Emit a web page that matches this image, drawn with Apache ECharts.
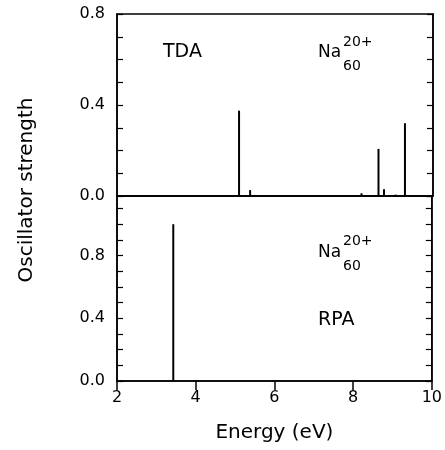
<!DOCTYPE html>
<html lang="en">
<head>
    <meta charset="UTF-8">
    <title>Oscillator strength</title>
    <script src="https://cdn.jsdelivr.net/npm/echarts@6/dist/echarts.min.js"></script>
    <style>
        body { margin: 0; background: #fff; }
    </style>
</head>
<body>
<div id="main" style="width: 445px;height:450px;"></div>
<script>
    // TDA lines (energy eV, strength)
    var tdaEnergy = [4.71, 5.09, 5.37, 8.19, 8.62, 8.76, 9.05, 9.29];
    var tdaStrength = [0.003, 0.375, 0.026, 0.012, 0.207, 0.03, 0.006, 0.32];
    // RPA lines
    var rpaEnergy = [3.43];
    var rpaStrength = [1.0];
    var xTicks = [2, 4, 6, 8, 10];
    var yTickLabels = [0, 0.4, 0.8];

    function pairs(xs, ys) {
        var out = [];
        for (var i = 0; i < xs.length; i++) {
            out.push([xs[i], ys[i]]);
        }
        return out;
    }

    var fontName = 'DejaVu Sans';

    function yLabel(v) {
        for (var i = 0; i < yTickLabels.length; i++) {
            if (Math.abs(v - yTickLabels[i]) < 1e-6) return v.toFixed(1);
        }
        return '';
    }

    function yAxisDef(grid, max, right) {
        return {
            type: 'value',
            gridIndex: grid,
            position: right ? 'right' : 'left',
            min: 0,
            max: max,
            interval: 0.1,
            splitLine: {show: false},
            axisLine: {show: true, lineStyle: {color: '#000', width: 1.5}},
            axisTick: {show: true, inside: true, length: 6, lineStyle: {color: '#000', width: 1.2}},
            axisLabel: {
                show: !right,
                showMaxLabel: max <= 0.8,
                margin: 12,
                color: '#000',
                fontFamily: fontName,
                fontSize: 16,
                formatter: yLabel
            }
        };
    }

    var myChart = echarts.init(document.getElementById('main'));
    var option = {
        animation: false,
        backgroundColor: '#fff',
        grid: [
            {left: 117, right: 12, top: 14, height: 182, show: true, borderColor: '#000', borderWidth: 1.5},
            {left: 117, right: 12, top: 196, height: 185, show: true, borderColor: '#000', borderWidth: 1.5}
        ],
        xAxis: [
            {
                type: 'value', gridIndex: 0, min: 2, max: 10, interval: 2,
                splitLine: {show: false},
                axisLine: {show: true, lineStyle: {color: '#000', width: 1.5}},
                axisTick: {show: false},
                axisLabel: {show: false}
            },
            {
                type: 'value', gridIndex: 1, min: 2, max: 10, interval: 2,
                splitLine: {show: false},
                axisLine: {show: true, onZero: false, lineStyle: {color: '#000', width: 1.5}},
                axisTick: {show: true, length: 9, lineStyle: {color: '#000', width: 1.5}},
                axisLabel: {
                    color: '#000', fontFamily: fontName, fontSize: 16, margin: 9,
                    formatter: function (v) { return xTicks.indexOf(v) >= 0 ? String(v) : ''; }
                },
                name: 'Energy (eV)',
                nameLocation: 'middle',
                nameGap: 42,
                nameTextStyle: {color: '#000', fontFamily: fontName, fontSize: 20}
            }
        ],
        yAxis: [
            yAxisDef(0, 0.8, false),
            yAxisDef(0, 0.8, true),
            yAxisDef(1, 1.18, false),
            yAxisDef(1, 1.18, true)
        ],
        series: [
            {
                type: 'bar', xAxisIndex: 0, yAxisIndex: 0,
                barWidth: 2, itemStyle: {color: '#000'},
                data: pairs(tdaEnergy, tdaStrength)
            },
            {
                type: 'bar', xAxisIndex: 1, yAxisIndex: 2,
                barWidth: 2, itemStyle: {color: '#000'},
                data: pairs(rpaEnergy, rpaStrength)
            }
        ],
        graphic: [
            {type: 'text', left: 163, top: 43, style: {text: 'TDA', fontFamily: fontName, fontSize: 19, fill: '#000'}},
            {type: 'text', left: 318, top: 44, style: {text: 'Na', fontFamily: fontName, fontSize: 17, fill: '#000'}},
            {type: 'text', left: 343, top: 35, style: {text: '20+', fontFamily: fontName, fontSize: 14, fill: '#000'}},
            {type: 'text', left: 343, top: 59, style: {text: '60', fontFamily: fontName, fontSize: 14, fill: '#000'}},
            {type: 'text', left: 318, top: 244, style: {text: 'Na', fontFamily: fontName, fontSize: 17, fill: '#000'}},
            {type: 'text', left: 343, top: 234, style: {text: '20+', fontFamily: fontName, fontSize: 14, fill: '#000'}},
            {type: 'text', left: 343, top: 259, style: {text: '60', fontFamily: fontName, fontSize: 14, fill: '#000'}},
            {type: 'text', left: 318, top: 311, style: {text: 'RPA', fontFamily: fontName, fontSize: 19, fill: '#000'}},
            {
                type: 'text', x: 27, y: 190, rotation: Math.PI / 2,
                style: {text: 'Oscillator strength', fontFamily: fontName, fontSize: 20, fill: '#000',
                    align: 'center', verticalAlign: 'middle'}
            }
        ]
    };
    myChart.setOption(option);
</script>
</body>
</html>
